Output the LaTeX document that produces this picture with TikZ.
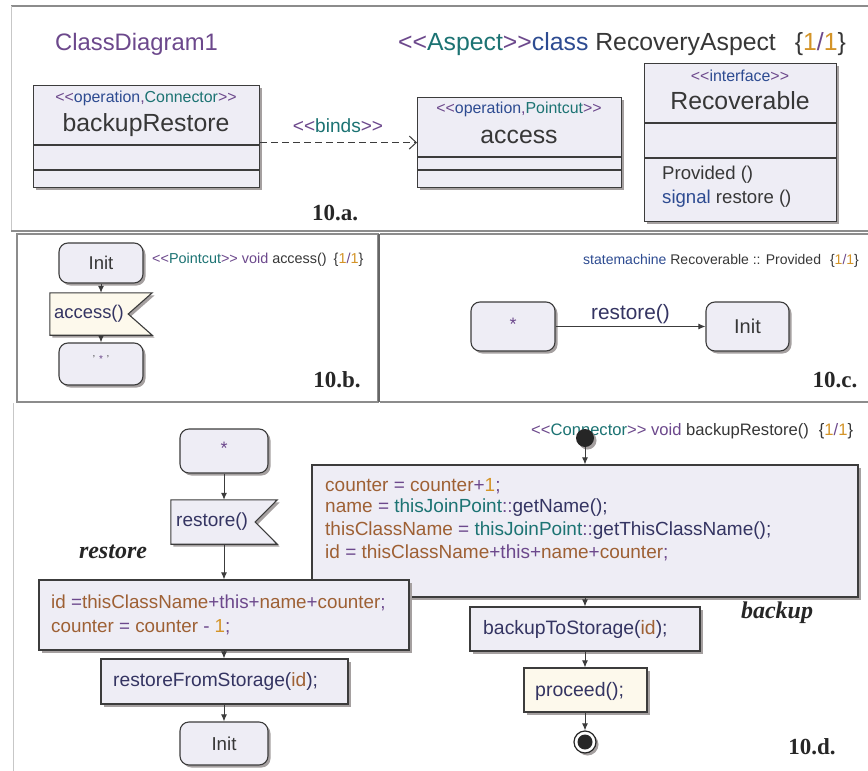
\documentclass[tikz,border=0pt]{standalone}
\usepackage{fontspec}
\setmainfont{Liberation Sans}
\newfontfamily\labelfont{Liberation Serif}
\usetikzlibrary{arrows.meta,shadows}

\definecolor{cPurple}{RGB}{108,72,140}
\definecolor{cTeal}{RGB}{28,115,115}
\definecolor{cBlue}{RGB}{45,75,145}
\definecolor{cNavy}{RGB}{52,52,98}
\definecolor{cBrown}{RGB}{158,96,52}
\definecolor{cOrange}{RGB}{212,148,40}
\definecolor{cGray}{RGB}{55,55,55}
\definecolor{boxfill}{RGB}{238,237,245}
\definecolor{flagfill}{RGB}{253,249,236}
\definecolor{boxline}{RGB}{60,60,60}
\definecolor{shadowgray}{RGB}{165,160,160}

\newcommand\tpur[1]{\textcolor{cPurple}{#1}}
\newcommand\tteal[1]{\textcolor{cTeal}{#1}}
\newcommand\tblue[1]{\textcolor{cBlue}{#1}}
\newcommand\tnavy[1]{\textcolor{cNavy}{#1}}
\newcommand\tbrown[1]{\textcolor{cBrown}{#1}}
\newcommand\torange[1]{\textcolor{cOrange}{#1}}
\newcommand\tgray[1]{\textcolor{cGray}{#1}}
\newcommand\sopen{<\kern0pt<}
\newcommand\sclose{>\kern0pt>}
\newcommand\oneofone{\tgray{\{}\torange{1}\tpur{/}\torange{1}\tgray{\}}}
\newcommand\fs[1]{\fontsize{#1}{#1}\selectfont}

\tikzset{
  shade box/.style={drop shadow={shadow xshift=2.5pt,shadow yshift=-2.5pt,fill=shadowgray,opacity=1}},
  umlbox/.style={draw=boxline, fill=boxfill, line width=1.1pt, inner sep=0pt, shade box},
  statebox/.style={umlbox, rounded corners=9pt},
  flagbox/.style={inner sep=0pt},
  sep/.style={draw=boxline, line width=1.1pt},
  txt/.style={inner sep=0pt, text=cGray},
  lefttxt/.style={txt, anchor=west},
  flow/.style={draw=boxline, line width=1pt, -{Latex[length=7pt,width=6pt]}},
  panellabel/.style={inner sep=0pt, font=\labelfont\bfseries\fs{23}, text=black!85},
  sectionlabel/.style={inner sep=0pt, font=\labelfont\bfseries\itshape\fs{24}, text=black!85},
  frame/.style={draw=black!45, line width=1.3pt},
  thinframe/.style={draw=black!22, line width=1pt},
}

\begin{document}
\begin{tikzpicture}[x=1pt,y=-1pt]
\useasboundingbox (0,0) rectangle (868,771);
\fill[white] (0,0) rectangle (868,771);

% ---------- panel frames ----------
\draw[frame] (11,6) -- (868,6);
\draw[thinframe] (11,6) -- (11,231);
\draw[frame] (11,231) -- (868,231);
\draw[frame] (17,234) rectangle (378,402);
\draw[draw=black!60, line width=2pt] (378.5,234) -- (378.5,402);
\draw[frame] (380,234) -- (870,234);
\draw[frame] (380,402) -- (870,402);
\draw[thinframe] (13,403) -- (13,771);

% ---------- 10.a : class diagram ----------
\node[lefttxt, font=\fs{23.8}, text=cPurple] (cdname) at (55,44) {ClassDiagram1};
\node[lefttxt, font=\fs{24.8}] (aspect) at (398,44)
  {\tpur{\sopen}\tteal{Aspect}\tpur{\sclose}\tblue{class} \tgray{RecoveryAspect}\hspace{19pt}\oneofone};

% backupRestore operation
\node[umlbox, minimum width=226pt, minimum height=102pt, anchor=north west] (br) at (33,85) {};
\draw[sep] ([yshift=-60pt]br.north west) -- ([yshift=-60pt]br.north east);
\draw[sep] ([yshift=-85pt]br.north west) -- ([yshift=-85pt]br.north east);
\node[txt, font=\fs{15.9}] (brst) at (146,98) {\tpur{\sopen}\tblue{operation}\tpur{,}\tteal{Connector}\tpur{\sclose}};
\node[txt, font=\fs{24.8}] (brname) at (146,125) {backupRestore};

% access operation
\node[umlbox, minimum width=204pt, minimum height=90pt, anchor=north west] (acc) at (417,97) {};
\draw[sep] ([yshift=-60pt]acc.north west) -- ([yshift=-60pt]acc.north east);
\draw[sep] ([yshift=-73pt]acc.north west) -- ([yshift=-73pt]acc.north east);
\node[txt, font=\fs{15.9}] (accst) at (519,109) {\tpur{\sopen}\tblue{operation}\tpur{,}\tteal{Pointcut}\tpur{\sclose}};
\node[txt, font=\fs{24.8}] (accname) at (519,137) {access};

% Recoverable interface
\node[umlbox, minimum width=192pt, minimum height=158pt, anchor=north west] (rec) at (644,63) {};
\draw[sep] ([yshift=-60pt]rec.north west) -- ([yshift=-60pt]rec.north east);
\draw[sep] ([yshift=-95pt]rec.north west) -- ([yshift=-95pt]rec.north east);
\node[txt, font=\fs{15.9}] (recst) at (740,76) {\tpur{\sopen}\tblue{interface}\tpur{\sclose}};
\node[txt, font=\fs{24.8}] (recname) at (740,101) {Recoverable};
\node[lefttxt, font=\fs{18.6}] (recop1) at (662,175) {Provided ()};
\node[lefttxt, font=\fs{18.6}] (recop2) at (662,199) {\tblue{signal} restore ()};

% binds dependency
\draw[draw=boxline, line width=1pt, dash pattern=on 7pt off 4pt,
      -{Straight Barb[length=7pt,width=13pt]}] (br.east |- acc.west) -- (acc.west);
\node[txt, font=\fs{19.1}] (binds) at (338,126) {\tpur{\sopen}\tteal{binds}\tpur{\sclose}};

\node[panellabel] (lbla) at (335,213) {10.a.};

% ---------- 10.b : pointcut activity ----------
\node[lefttxt, font=\fs{14.4}] (ptitle) at (152,260)
  {\tpur{\sopen}\tteal{Pointcut}\tpur{\sclose} \tpur{void} \tgray{access()}\hspace{7pt}\oneofone};
\node[statebox, minimum width=84pt, minimum height=40pt] (binit) at (101,263) {};
\node[txt, font=\fs{18.5}] at (binit) {Init};
\node[flagbox, minimum width=102pt, minimum height=42pt] (bflag) at (101,314) {};
\fill[shadowgray] ([shift={(2.5pt,-2.5pt)}]bflag.north west) -- ([shift={(2.5pt,-2.5pt)}]bflag.north east)
  -- ([shift={(-21.5pt,-2.5pt)}]bflag.east) -- ([shift={(2.5pt,-2.5pt)}]bflag.south east)
  -- ([shift={(2.5pt,-2.5pt)}]bflag.south west) -- cycle;
\draw[draw=boxline, fill=flagfill, line width=1.1pt] (bflag.north west) -- (bflag.north east)
  -- ([xshift=-24pt]bflag.east) -- (bflag.south east) -- (bflag.south west) -- cycle;
\node[lefttxt, font=\fs{18.4}, text=cNavy] (bflagtxt) at (54,314) {access()};
\node[statebox, minimum width=84pt, minimum height=42pt] (bstar) at (101,364) {};
\node[txt, font=\fs{10}] at (101,359) {\tgray{\char"0027}\hspace{4pt}\tpur{*}\hspace{4pt}\tgray{\char"0027}};
\draw[flow] (binit.south) -- (bflag.north);
\draw[flow] (bflag.south) -- (bstar.north);
\node[panellabel] (lblb) at (337,380) {10.b.};

% ---------- 10.c : state machine ----------
\node[lefttxt, font=\fs{14}] (ctitle) at (583,261)
  {\tblue{statemachine} \tgray{Recoverable :: Provided}\hspace{9pt}\oneofone};
\node[statebox, minimum width=84pt, minimum height=49pt] (cstar) at (513,326.5) {};
\node[txt, font=\fs{18}, text=cPurple] at (513,324) {*};
\node[statebox, minimum width=83pt, minimum height=49pt] (cinit) at (747.5,326.5) {};
\node[txt, font=\fs{20}] at (cinit) {Init};
\draw[flow] (cstar.east) -- node[above=2pt, inner sep=0pt, font=\fs{20.8}, text=cNavy] {restore()} (cinit.west);
\node[panellabel] (lblc) at (835,380) {10.c.};

% ---------- 10.d : connector activity (backup) ----------
\node[lefttxt, font=\fs{16.6}] (dtitle) at (531,431)
  {\tpur{\sopen}\tteal{Connector}\tpur{\sclose} \tpur{void} \tgray{backupRestore()}\hspace{10pt}\oneofone};
\node[circle, fill=black!85, inner sep=0pt, minimum size=18pt, shade box] (dstart) at (585,438) {};
\node[umlbox, minimum width=546pt, minimum height=132pt] (backupbox) at (585,531) {};
\node[lefttxt, font=\fs{19}] (bk1) at (325,486)
  {\tbrown{counter} \tpur{=} \tbrown{counter}\tpur{+}\torange{1}\tpur{;}};
\node[lefttxt, font=\fs{19}] (bk2) at (325,508)
  {\tbrown{name} \tpur{=} \tteal{thisJoinPoint}\tpur{::}\tnavy{getName();}};
\node[lefttxt, font=\fs{19}] (bk3) at (325,531)
  {\tbrown{thisClassName} \tpur{=} \tteal{thisJoinPoint}\tpur{::}\tnavy{getThisClassName();}};
\node[lefttxt, font=\fs{19}] (bk4) at (325,553)
  {\tbrown{id} \tpur{=} \tbrown{thisClassName}\tpur{+this+}\tbrown{name}\tpur{+}\tbrown{counter}\tpur{;}};
\node[umlbox, minimum width=230pt, minimum height=44pt] (tostore) at (585,629) {};
\node[lefttxt, font=\fs{19.4}, text=cNavy] (tostoretxt) at (483,629) {backupToStorage(\tbrown{id});};
\node[umlbox, fill=flagfill, minimum width=123pt, minimum height=44pt] (proceed) at (585.5,690) {};
\node[lefttxt, font=\fs{19.5}, text=cNavy] (proceedtxt) at (535,691) {proceed();};
\node[circle, draw=black!85, fill=white, line width=1.2pt, inner sep=0pt, minimum size=22pt, shade box] (dend) at (585,742) {};
\node[circle, fill=black!85, inner sep=0pt, minimum size=15pt] (dendin) at (dend) {};
\draw[flow] (dstart.south) -- (backupbox.north);
\draw[flow] (backupbox.south -| tostore.north) -- (tostore.north);
\draw[flow] (tostore.south) -- (proceed.north -| tostore.south);
\draw[flow] (proceed.south -| dend.north) -- (dend.north);
\node[sectionlabel] (lblbackup) at (777,613) {backup};

% ---------- 10.d : pointcut activity (restore) ----------
\node[statebox, minimum width=88pt, minimum height=44pt] (dstar) at (224,451) {};
\node[txt, font=\fs{18}, text=cPurple] at (224,448) {*};
\node[flagbox, minimum width=106pt, minimum height=44pt] (rflag) at (224,522) {};
\fill[shadowgray] ([shift={(2.5pt,-2.5pt)}]rflag.north west) -- ([shift={(2.5pt,-2.5pt)}]rflag.north east)
  -- ([shift={(-19.5pt,-2.5pt)}]rflag.east) -- ([shift={(2.5pt,-2.5pt)}]rflag.south east)
  -- ([shift={(2.5pt,-2.5pt)}]rflag.south west) -- cycle;
\draw[draw=boxline, fill=boxfill, line width=1.1pt] (rflag.north west) -- (rflag.north east)
  -- ([xshift=-22pt]rflag.east) -- (rflag.south east) -- (rflag.south west) -- cycle;
\node[lefttxt, font=\fs{19}, text=cNavy] (rflagtxt) at (176,522) {restore()};
\node[sectionlabel] (lblrestore) at (113,552) {restore};
\node[umlbox, minimum width=370pt, minimum height=70pt] (restorebox) at (224,615) {};
\node[lefttxt, font=\fs{18.8}] (rs1) at (51,603)
  {\tbrown{id} \tpur{=}\tbrown{thisClassName}\tpur{+this+}\tbrown{name}\tpur{+}\tbrown{counter}\tpur{;}};
\node[lefttxt, font=\fs{18.8}] (rs2) at (51,627)
  {\tbrown{counter} \tpur{=} \tbrown{counter} \tpur{-} \torange{1}\tpur{;}};
\node[umlbox, minimum width=247pt, minimum height=45pt] (fromstore) at (224.5,681.5) {};
\node[lefttxt, font=\fs{19.2}, text=cNavy] (fromstoretxt) at (113,682) {restoreFromStorage(\tbrown{id});};
\node[statebox, minimum width=88pt, minimum height=43pt] (dinit) at (224,743.5) {};
\node[txt, font=\fs{18.7}] at (dinit) {Init};
\draw[flow] (dstar.south) -- (rflag.north);
\draw[flow] (rflag.south) -- (restorebox.north);
\draw[flow] (restorebox.south) -- (fromstore.north -| restorebox.south);
\draw[flow] (fromstore.south -| dinit.north) -- (dinit.north);

\node[panellabel] (lbld) at (812,747) {10.d.};
\end{tikzpicture}
\end{document}
